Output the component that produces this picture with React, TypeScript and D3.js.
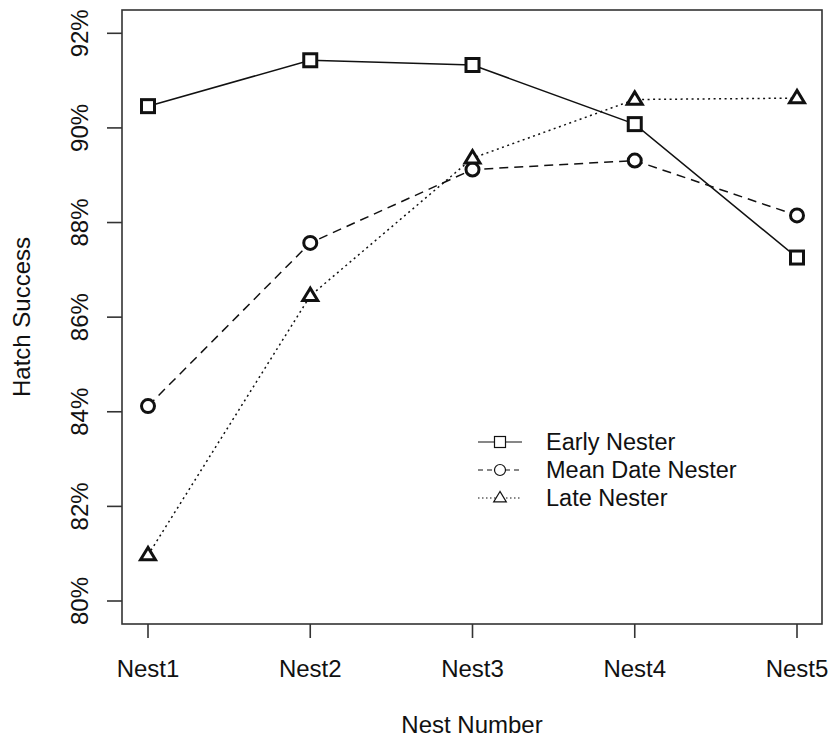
import React from "react";
import * as d3 from "d3";

const nests = ["Nest1", "Nest2", "Nest3", "Nest4", "Nest5"];
const earlyNester = [90.46, 91.43, 91.33, 90.08, 87.26];
const meanDateNester = [84.12, 87.57, 89.12, 89.31, 88.15];
const lateNester = [80.97, 86.45, 89.36, 90.6, 90.63];
const yTicks = [80, 82, 84, 86, 88, 90, 92];

const seriesNames = ["Early Nester", "Mean Date Nester", "Late Nester"];
const seriesValues = [earlyNester, meanDateNester, lateNester];
const seriesDash = ["", "9,6", "2,3.5"];
const seriesShape = ["square", "circle", "triangle"];

const W = 828, H = 737;
const box = { left: 122, right: 822, top: 10, bottom: 624 };
const FONT = "Liberation Sans, Arial, Helvetica, sans-serif";
const INK = "#111";

function Marker({ shape, x, y, s, sw }: { shape: string; x: number; y: number; s: number; sw: number }) {
  if (shape === "square") {
    return <rect x={x - s / 2} y={y - s / 2} width={s} height={s} fill="#fff" stroke={INK} strokeWidth={sw} />;
  }
  if (shape === "circle") {
    return <circle cx={x} cy={y} r={s / 2} fill="#fff" stroke={INK} strokeWidth={sw} />;
  }
  const h = s * 0.95;
  const w = s * 1.15;
  const pts = [
    [x, y - h * 0.62],
    [x - w / 2, y + h * 0.38],
    [x + w / 2, y + h * 0.38],
  ];
  return <polygon points={pts.map((p) => p.join(",")).join(" ")} fill="#fff" stroke={INK} strokeWidth={sw} strokeLinejoin="miter" />;
}

export default function App() {
  const x = d3.scalePoint<string>().domain(nests).range([148, 797]);
  const y = d3.scaleLinear().domain([80, 92]).range([601, 33.3]);
  const line = d3
    .line<number>()
    .x((_, i) => x(nests[i]) as number)
    .y((d) => y(d));

  const legendX = 478;
  const legendY = [442, 470, 498];

  return (
    <svg width={W} height={H} style={{ position: "absolute", left: 0, top: 0, background: "#fff" }} fontFamily={FONT}>
      <rect x={0} y={0} width={W} height={H} fill="#fff" />
      <rect x={box.left} y={box.top} width={box.right - box.left} height={box.bottom - box.top} fill="none" stroke="#333" strokeWidth={1.6} />
      {yTicks.map((t) => (
        <g key={t}>
          <line x1={107} x2={box.left} y1={y(t)} y2={y(t)} stroke="#333" strokeWidth={1.6} />
          <text transform={`translate(88,${y(t)}) rotate(-90)`} textAnchor="middle" fontSize={24} fill={INK}>
            {t}%
          </text>
        </g>
      ))}
      {nests.map((n) => (
        <g key={n}>
          <line x1={x(n)} x2={x(n)} y1={box.bottom} y2={638} stroke="#333" strokeWidth={1.6} />
          <text x={x(n)} y={677} textAnchor="middle" fontSize={24} fill={INK}>
            {n}
          </text>
        </g>
      ))}
      <text x={472} y={733} textAnchor="middle" fontSize={24} fill={INK}>
        Nest Number
      </text>
      <text transform={`translate(30,317) rotate(-90)`} textAnchor="middle" fontSize={24} fill={INK}>
        Hatch Success
      </text>
      {seriesValues.map((vals, si) => (
        <path key={si} d={line(vals) || ""} fill="none" stroke={INK} strokeWidth={1.5} strokeDasharray={seriesDash[si]} />
      ))}
      {seriesValues.map((vals, si) =>
        vals.map((v, i) => (
          <Marker key={`${si}-${i}`} shape={seriesShape[si]} x={x(nests[i]) as number} y={y(v)} s={13} sw={3} />
        ))
      )}
      {seriesNames.map((name, si) => (
        <g key={name}>
          <line x1={legendX} x2={legendX + 44} y1={legendY[si]} y2={legendY[si]} stroke={INK} strokeWidth={1.2} strokeDasharray={seriesDash[si] ? (si === 1 ? "5,4" : "1.5,2.5") : ""} />
          <Marker shape={seriesShape[si]} x={legendX + 22} y={legendY[si]} s={11} sw={1.2} />
          <text x={546} y={legendY[si] + 8} fontSize={23.5} fill={INK}>
            {name}
          </text>
        </g>
      ))}
    </svg>
  );
}
